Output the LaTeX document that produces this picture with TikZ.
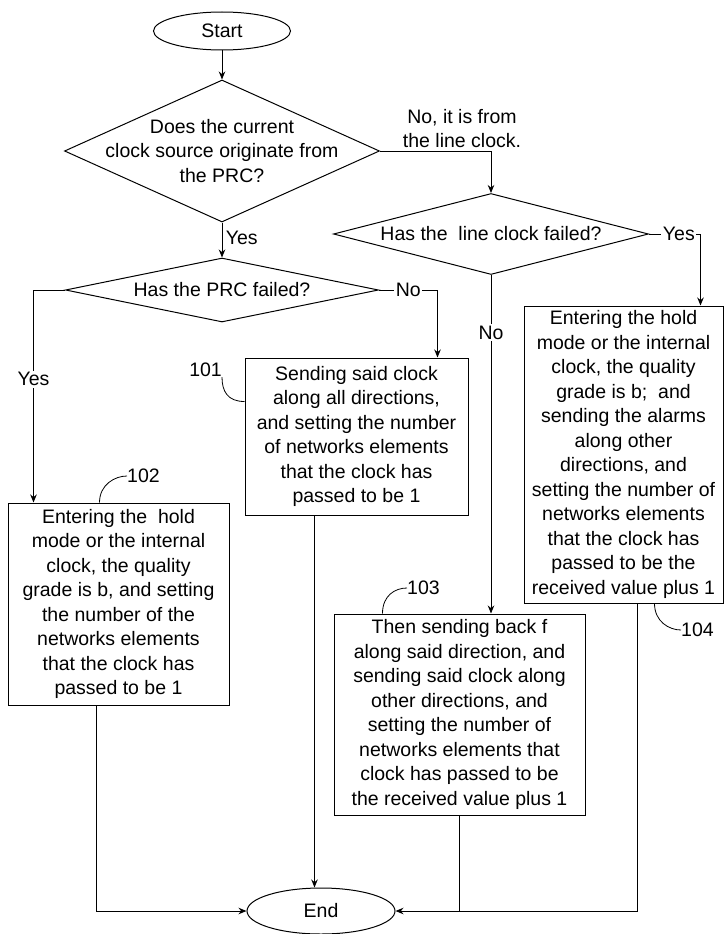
\documentclass[tikz,border=0pt]{standalone}
\usepackage{fontspec}
\setmainfont{Liberation Sans}
\usetikzlibrary{arrows.meta, calc, positioning, shapes.geometric}

\tikzset{
  flowtext/.style={font=\fontsize{19.5}{24.5}\selectfont},
  terminal/.style={ellipse, draw, line width=1pt, inner sep=0pt, flowtext},
  decision/.style={diamond, draw, line width=1pt, inner sep=0pt},
  process/.style={rectangle, draw, line width=1pt, inner sep=0pt, align=center, flowtext},
  branch/.style={fill=white, inner sep=1.5pt, flowtext},
  refnum/.style={inner sep=0pt, flowtext},
  flow/.style={line width=1pt},
  leader/.style={line width=0.8pt}
}

\begin{document}
\begin{tikzpicture}[x=1pt, y=-1pt, >={Stealth[length=8pt,width=6.5pt]}]
                \useasboundingbox (0,0) rectangle (726,934);

                % Start and End
                \node[terminal, minimum width=137pt, minimum height=38pt] (start) at (222,31) {Start};
                \node[terminal, minimum width=148pt, minimum height=46pt] (end) at (321,911) {End};

                % Decisions
                \node[decision, minimum width=315pt, minimum height=142pt] (q1) at (222,151) {};
                \node[flowtext, align=center] (q1t) at (q1) {Does the current\\clock source originate from\\the PRC?};
                \node[decision, minimum width=313pt, minimum height=64pt] (q2) at (222,290) {};
                \node[flowtext] (q2t) at (q2) {Has the PRC failed?};
                \node[decision, minimum width=315pt, minimum height=81pt] (q3) at (491,234) {};
                \node[flowtext] (q3t) at (q3) {Has the\ \ line clock failed?};

                % Processes
                \node[process, minimum width=223pt, minimum height=157pt] (b101) at (356.5,436.5)
                    {Sending said clock\\along all directions,\\and setting the number\\of networks elements\\that the clock has\\passed to be 1};
                \node[process, minimum width=221pt, minimum height=202pt] (b102) at (118.5,604)
                    {Entering the\ \ hold\\mode or the internal\\clock, the quality\\grade is b, and setting\\the number of the\\networks elements\\that the clock has\\passed to be 1};
                \node[process, minimum width=251pt, minimum height=201pt] (b103) at (459.5,714.5)
                    {Then sending back f\\along said direction, and\\sending said clock along\\other directions, and\\setting the number of\\networks elements that\\clock has passed to be\\the received value plus 1};
                \node[process, minimum width=199pt, minimum height=297pt] (b104) at (623.5,454.5)
                    {Entering the hold\\mode or the internal\\clock, the quality\\grade is b;\ \ and\\sending the alarms\\along other\\directions, and\\setting the number of\\networks elements\\that the clock has\\passed to be the\\received value plus 1};

                % Reference numerals
                \node[refnum, anchor=east] (l101) at (222,370) {101};
                \node[refnum, anchor=west] (l102) at (127,476) {102};
                \node[refnum, anchor=west] (l103) at (407,588) {103};
                \node[refnum, anchor=west] (l104) at (681,630) {104};
                \draw[leader] ($(b101.north west)+(0,44)$) .. controls +(-17,0) and +(0,14) .. (l101.south east);
                \draw[leader] ($(b102.north west)+(92,0)$) .. controls +(0,-18) and +(-12,0) .. (l102.west);
                \draw[leader] ($(b103.north west)+(49,0)$) .. controls +(0,-18) and +(-12,0) .. (l103.west);
                \draw[leader] ($(b104.south west)+(131,0)$) .. controls +(0,18) and +(-12,0) .. (l104.west);

                % Connectors
                \draw[flow, ->] (start) -- (q1);
                \draw[flow, ->] (q1) -- node[right, flowtext, pos=0.45] {Yes} (q2);
                \draw[flow, ->] (q1.east) -| (q3.north);
                \node[flowtext, align=center] (nolbl) at (462,128.5) {No, it is from\\the line clock.};
                \draw[flow, ->] (q2.west) -| node[branch, pos=0.71] {Yes} ($(b102.north west)+(26,0)$);
                \draw[flow, ->] (q2.east) -| node[branch, pos=0.25] {No} ($(b101.north east)+(-31,0)$);
                \draw[flow, ->] (q3.east) -| node[branch, pos=0.29] {Yes} ($(b104.north east)+(-23,0)$);
                \draw[flow, ->] (q3.south) -- node[branch, pos=0.17] {No} (q3.south |- b103.north);

                % To End
                \coordinate (o101) at ($(b101.south west)+(70,0)$);
                \draw[flow, ->] ($(b102.south west)+(89,0)$) |- (end.west);
                \draw[flow, ->] (o101) -- (o101 |- end.north);
                \draw[flow] (b103.south) -- (b103.south |- end.east);
                \draw[flow, ->] ($(b104.south west)+(114,0)$) |- (end.east);
            \end{tikzpicture}
\end{document}
